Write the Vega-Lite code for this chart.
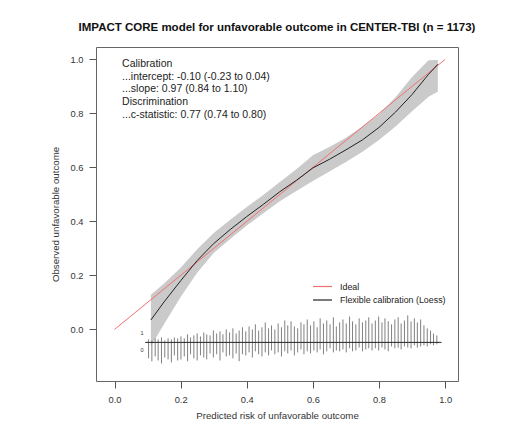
{
  "$schema": "https://vega.github.io/schema/vega-lite/v6.json",
  "width": 362,
  "height": 334,
  "autosize": {"type": "none"},
  "padding": {"left": 96, "top": 47, "right": 69, "bottom": 57},
  "background": "white",
  "title": {
    "text": "IMPACT CORE model for unfavorable outcome in CENTER-TBI (n = 1173)",
    "font": "Liberation Sans",
    "fontSize": 11.5,
    "fontWeight": "bold",
    "color": "#111",
    "anchor": "middle",
    "offset": 14
  },
  "config": {
    "view": {"stroke": "#666", "strokeWidth": 1},
    "axis": {
      "domain": false,
      "grid": false,
      "tickColor": "#555",
      "tickSize": 7,
      "labelFont": "Liberation Sans",
      "labelFontSize": 9.3,
      "labelColor": "#333",
      "titleFont": "Liberation Sans",
      "titleFontSize": 9.7,
      "titleFontWeight": "normal",
      "titleColor": "#333"
    }
  },
  "datasets": {
    "curve": [
      {"x": 0.11, "y": 0.035, "lo": -0.062, "hi": 0.128},
      {"x": 0.15, "y": 0.102, "lo": 0.02, "hi": 0.17},
      {"x": 0.20, "y": 0.18, "lo": 0.12, "hi": 0.228},
      {"x": 0.25, "y": 0.255, "lo": 0.21, "hi": 0.297},
      {"x": 0.30, "y": 0.318, "lo": 0.283, "hi": 0.357},
      {"x": 0.35, "y": 0.37, "lo": 0.335, "hi": 0.406},
      {"x": 0.40, "y": 0.418, "lo": 0.385, "hi": 0.453},
      {"x": 0.45, "y": 0.463, "lo": 0.43, "hi": 0.498},
      {"x": 0.50, "y": 0.51, "lo": 0.475, "hi": 0.546},
      {"x": 0.55, "y": 0.552, "lo": 0.513, "hi": 0.593},
      {"x": 0.60, "y": 0.598, "lo": 0.55, "hi": 0.645},
      {"x": 0.65, "y": 0.63, "lo": 0.585, "hi": 0.676},
      {"x": 0.70, "y": 0.665, "lo": 0.62, "hi": 0.71},
      {"x": 0.75, "y": 0.702, "lo": 0.658, "hi": 0.752},
      {"x": 0.80, "y": 0.748, "lo": 0.702, "hi": 0.797},
      {"x": 0.85, "y": 0.805, "lo": 0.752, "hi": 0.86},
      {"x": 0.90, "y": 0.87, "lo": 0.808, "hi": 0.935},
      {"x": 0.95, "y": 0.945, "lo": 0.862, "hi": 0.997},
      {"x": 0.978, "y": 0.982, "lo": 0.88, "hi": 0.998}
    ],
    "ideal": [
      {"x": 0, "y": 0},
      {"x": 1, "y": 1}
    ],
    "notes": [
      {"x": 0.023, "y": 0.983, "label": "Calibration"},
      {"x": 0.023, "y": 0.936, "label": "...intercept: -0.10 (-0.23 to 0.04)"},
      {"x": 0.023, "y": 0.889, "label": "...slope: 0.97 (0.84 to 1.10)"},
      {"x": 0.023, "y": 0.842, "label": "Discrimination"},
      {"x": 0.023, "y": 0.794, "label": "...c-statistic: 0.77 (0.74 to 0.80)"}
    ],
    "outcomeLabels": [
      {"x": 0.083, "y": -0.015, "label": "1"},
      {"x": 0.083, "y": -0.077, "label": "0"}
    ],
    "baseline": [
      {"x": 0.093, "x2": 0.989}
    ],
    "spikes": [
      {"x": 0.103, "t": -0.037, "b": -0.107},
      {"x": 0.113, "t": -0.041, "b": -0.118},
      {"x": 0.123, "t": -0.033, "b": -0.100},
      {"x": 0.132, "t": -0.037, "b": -0.115},
      {"x": 0.142, "t": -0.030, "b": -0.126},
      {"x": 0.152, "t": -0.041, "b": -0.104},
      {"x": 0.162, "t": -0.033, "b": -0.111},
      {"x": 0.172, "t": -0.037, "b": -0.122},
      {"x": 0.181, "t": -0.030, "b": -0.096},
      {"x": 0.191, "t": -0.033, "b": -0.115},
      {"x": 0.201, "t": -0.026, "b": -0.111},
      {"x": 0.211, "t": -0.033, "b": -0.100},
      {"x": 0.221, "t": -0.018, "b": -0.118},
      {"x": 0.230, "t": -0.030, "b": -0.092},
      {"x": 0.240, "t": -0.022, "b": -0.107},
      {"x": 0.250, "t": -0.015, "b": -0.115},
      {"x": 0.260, "t": -0.026, "b": -0.096},
      {"x": 0.270, "t": -0.011, "b": -0.104},
      {"x": 0.279, "t": -0.018, "b": -0.111},
      {"x": 0.289, "t": -0.022, "b": -0.089},
      {"x": 0.299, "t": -0.004, "b": -0.104},
      {"x": 0.309, "t": -0.015, "b": -0.092},
      {"x": 0.319, "t": -0.007, "b": -0.115},
      {"x": 0.328, "t": -0.018, "b": -0.085},
      {"x": 0.338, "t": 0.000, "b": -0.100},
      {"x": 0.348, "t": -0.011, "b": -0.096},
      {"x": 0.358, "t": 0.004, "b": -0.107},
      {"x": 0.368, "t": -0.015, "b": -0.089},
      {"x": 0.377, "t": -0.004, "b": -0.118},
      {"x": 0.387, "t": 0.008, "b": -0.092},
      {"x": 0.397, "t": -0.007, "b": -0.096},
      {"x": 0.407, "t": 0.011, "b": -0.085},
      {"x": 0.417, "t": 0.000, "b": -0.104},
      {"x": 0.426, "t": 0.019, "b": -0.081},
      {"x": 0.436, "t": -0.004, "b": -0.092},
      {"x": 0.446, "t": 0.008, "b": -0.100},
      {"x": 0.456, "t": 0.026, "b": -0.085},
      {"x": 0.466, "t": 0.004, "b": -0.096},
      {"x": 0.475, "t": 0.015, "b": -0.078},
      {"x": 0.485, "t": 0.000, "b": -0.092},
      {"x": 0.495, "t": 0.022, "b": -0.085},
      {"x": 0.505, "t": 0.008, "b": -0.100},
      {"x": 0.515, "t": 0.033, "b": -0.081},
      {"x": 0.524, "t": 0.015, "b": -0.089},
      {"x": 0.534, "t": 0.030, "b": -0.078},
      {"x": 0.544, "t": 0.011, "b": -0.096},
      {"x": 0.554, "t": 0.004, "b": -0.085},
      {"x": 0.564, "t": 0.026, "b": -0.074},
      {"x": 0.573, "t": 0.019, "b": -0.092},
      {"x": 0.583, "t": 0.037, "b": -0.081},
      {"x": 0.593, "t": 0.015, "b": -0.089},
      {"x": 0.603, "t": 0.030, "b": -0.078},
      {"x": 0.613, "t": 0.008, "b": -0.085},
      {"x": 0.622, "t": 0.041, "b": -0.074},
      {"x": 0.632, "t": 0.022, "b": -0.092},
      {"x": 0.642, "t": 0.033, "b": -0.081},
      {"x": 0.652, "t": 0.019, "b": -0.070},
      {"x": 0.662, "t": 0.045, "b": -0.085},
      {"x": 0.671, "t": 0.011, "b": -0.078},
      {"x": 0.681, "t": 0.026, "b": -0.081},
      {"x": 0.691, "t": 0.037, "b": -0.074},
      {"x": 0.701, "t": 0.022, "b": -0.085},
      {"x": 0.711, "t": 0.048, "b": -0.070},
      {"x": 0.720, "t": 0.030, "b": -0.081},
      {"x": 0.730, "t": 0.019, "b": -0.078},
      {"x": 0.740, "t": 0.041, "b": -0.067},
      {"x": 0.750, "t": 0.026, "b": -0.081},
      {"x": 0.760, "t": 0.033, "b": -0.074},
      {"x": 0.769, "t": 0.045, "b": -0.070},
      {"x": 0.779, "t": 0.022, "b": -0.078},
      {"x": 0.789, "t": 0.033, "b": -0.070},
      {"x": 0.799, "t": 0.048, "b": -0.078},
      {"x": 0.809, "t": 0.026, "b": -0.067},
      {"x": 0.818, "t": 0.041, "b": -0.074},
      {"x": 0.828, "t": 0.030, "b": -0.081},
      {"x": 0.838, "t": 0.019, "b": -0.063},
      {"x": 0.848, "t": 0.037, "b": -0.070},
      {"x": 0.858, "t": 0.045, "b": -0.067},
      {"x": 0.867, "t": 0.022, "b": -0.074},
      {"x": 0.877, "t": 0.033, "b": -0.063},
      {"x": 0.887, "t": 0.052, "b": -0.067},
      {"x": 0.897, "t": 0.030, "b": -0.070},
      {"x": 0.907, "t": 0.041, "b": -0.059},
      {"x": 0.916, "t": 0.026, "b": -0.067},
      {"x": 0.926, "t": 0.037, "b": -0.063},
      {"x": 0.936, "t": 0.015, "b": -0.059},
      {"x": 0.946, "t": 0.004, "b": -0.063},
      {"x": 0.956, "t": -0.004, "b": -0.055},
      {"x": 0.965, "t": -0.015, "b": -0.059},
      {"x": 0.975, "t": -0.022, "b": -0.055}
    ]
  },
  "encoding": {
    "x": {
      "type": "quantitative",
      "scale": {"domain": [-0.056, 1.039], "nice": false, "zero": false},
      "axis": {"values": [0, 0.2, 0.4, 0.6, 0.8, 1.0], "format": ".1f", "title": "Predicted risk of unfavorable outcome", "labelPadding": 7, "titlePadding": 6}
    },
    "y": {
      "type": "quantitative",
      "scale": {"domain": [-0.191, 1.046], "nice": false, "zero": false},
      "axis": {"values": [0, 0.2, 0.4, 0.6, 0.8, 1.0], "format": ".1f", "title": "Observed unfavorable outcome", "labelPadding": 6, "titlePadding": 10}
    }
  },
  "layer": [
    {
      "data": {"name": "curve"},
      "mark": {"type": "area", "color": "#cacaca", "opacity": 1},
      "encoding": {
        "x": {"field": "x"},
        "y": {"field": "lo"},
        "y2": {"field": "hi"}
      }
    },
    {
      "data": {"name": "ideal"},
      "mark": {"type": "line", "strokeWidth": 1},
      "encoding": {
        "x": {"field": "x"},
        "y": {"field": "y"},
        "color": {
          "datum": "Ideal",
          "type": "nominal",
          "scale": {"domain": ["Ideal", "Flexible calibration (Loess)"], "range": ["#f07070", "#222222"]},
          "legend": {
            "title": null,
            "orient": "none",
            "legendX": 221,
            "legendY": 234,
            "symbolType": "M-2,0H2",
            "symbolSize": 90,
            "symbolStrokeWidth": 1.2,
            "labelFont": "Liberation Sans",
            "labelFontSize": 8.9,
            "labelColor": "#222",
            "labelOffset": 12,
            "rowPadding": 2.5
          }
        }
      }
    },
    {
      "data": {"name": "curve"},
      "mark": {"type": "line", "strokeWidth": 1},
      "encoding": {
        "x": {"field": "x"},
        "y": {"field": "y"},
        "color": {"datum": "Flexible calibration (Loess)", "type": "nominal"}
      }
    },
    {
      "data": {"name": "spikes"},
      "mark": {"type": "rule", "color": "#808080", "strokeWidth": 1},
      "encoding": {
        "x": {"field": "x"},
        "y": {"field": "t"},
        "y2": {"datum": -0.048}
      }
    },
    {
      "data": {"name": "spikes"},
      "mark": {"type": "rule", "color": "#808080", "strokeWidth": 1},
      "encoding": {
        "x": {"field": "x"},
        "y": {"field": "b"},
        "y2": {"datum": -0.048}
      }
    },
    {
      "data": {"name": "baseline"},
      "mark": {"type": "rule", "color": "#222", "strokeWidth": 1},
      "encoding": {
        "x": {"field": "x"},
        "x2": {"field": "x2"},
        "y": {"datum": -0.048}
      }
    },
    {
      "data": {"name": "notes"},
      "mark": {"type": "text", "align": "left", "baseline": "middle", "font": "Liberation Sans", "fontSize": 10.5, "color": "#222"},
      "encoding": {
        "x": {"field": "x"},
        "y": {"field": "y"},
        "text": {"field": "label"}
      }
    },
    {
      "data": {"name": "outcomeLabels"},
      "mark": {"type": "text", "align": "center", "baseline": "middle", "font": "Liberation Sans", "fontSize": 5.5, "color": "#333"},
      "encoding": {
        "x": {"field": "x"},
        "y": {"field": "y"},
        "text": {"field": "label"}
      }
    }
  ]
}
